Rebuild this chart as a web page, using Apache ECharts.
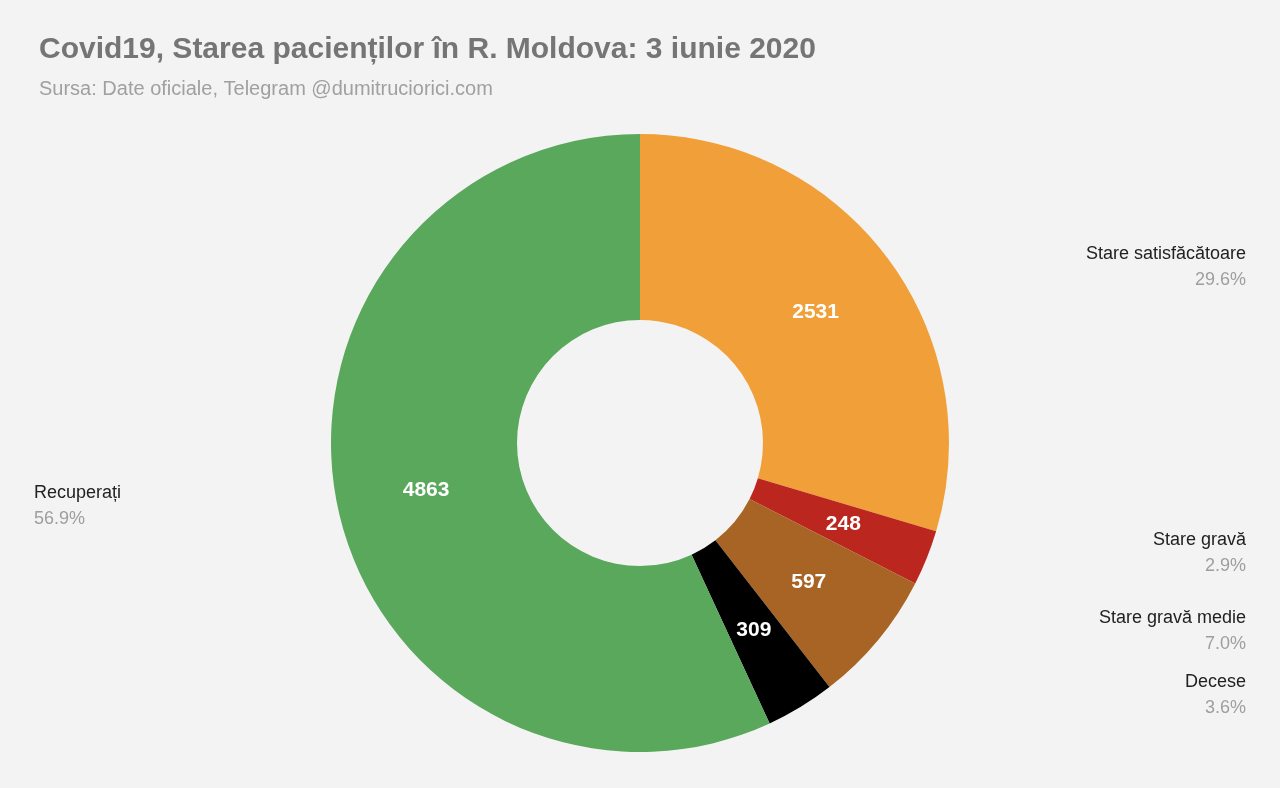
<!DOCTYPE html>
<html><head><meta charset="utf-8">
<script src="https://cdn.jsdelivr.net/npm/echarts@6/dist/echarts.min.js"></script>
<style>html,body{margin:0;background:#f3f3f3}#c{width:1280px;height:788px}</style>
</head><body><div id="c"></div>
<script>
const categories = ['Stare satisfăcătoare','Stare gravă','Stare gravă medie','Decese','Recuperați'];
const values = [2531,248,597,309,4863];
const colors = ['#f19f38','#bb271e','#a86424','#000000','#59a85c'];
const total = values.reduce((a,b)=>a+b,0);
const data = categories.map((n,i)=>({name:n,value:values[i],itemStyle:{color:colors[i]}}));
const chart = echarts.init(document.getElementById('c'));
chart.setOption({
  backgroundColor:'#f3f3f3',
  title:{text:'Covid19, Starea pacienților în R. Moldova: 3 iunie 2020',
    subtext:'Sursa: Date oficiale, Telegram @dumitruciorici.com',
    left:34, top:30, itemGap:14,
    textStyle:{fontFamily:'Liberation Sans',fontSize:30,fontWeight:'bold',color:'#757575'},
    subtextStyle:{fontFamily:'Liberation Sans',fontSize:20,color:'#a0a0a0'}},
  series:[
    {type:'pie',center:[640,443],radius:[0,295],startAngle:90,clockwise:true,silent:true,z:1,
     avoidLabelOverlap:false,
     data:categories.map((n,i)=>({name:n,value:values[i]})),
     itemStyle:{color:'rgba(0,0,0,0)'},
     label:{show:true,position:'outside',alignTo:'edge',edgeDistance:34,
       formatter:p=>'{n|'+p.name+'}\n{p|'+(p.value/total*100).toFixed(1)+'%}',
       rich:{n:{fontFamily:'Liberation Sans',fontSize:18,color:'#222',lineHeight:26},
             p:{fontFamily:'Liberation Sans',fontSize:18,color:'#9e9e9e',lineHeight:26}}},
     labelLine:{show:true,length:0,length2:10,lineStyle:{color:'#777',width:1.2}}},
    {type:'pie',center:[640,443],radius:[123,309],startAngle:90,clockwise:true,z:2,
     data:data,
     label:{show:true,position:'inside',formatter:'{c}',color:'#fff',fontSize:21,fontWeight:'bold',fontFamily:'Liberation Sans'},
     labelLine:{show:false}}
  ]
});
</script></body></html>
